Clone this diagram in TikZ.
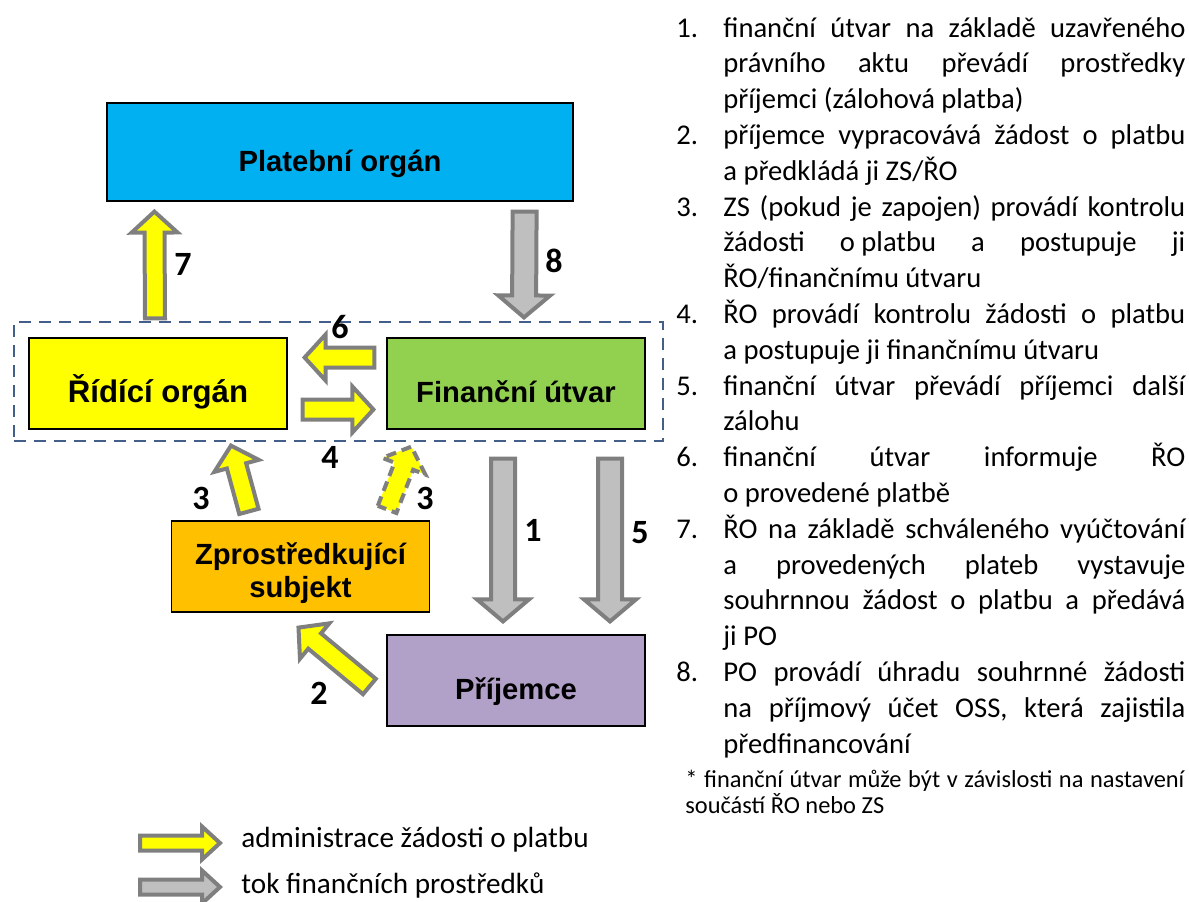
\documentclass[tikz,border=0pt]{standalone}
\usepackage{fontspec}
\setmainfont{Carlito}
\newfontfamily\arialfont{Liberation Sans}
\usetikzlibrary{calc,positioning}

\definecolor{modra}{RGB}{0,176,240}
\definecolor{zluta}{RGB}{255,255,0}
\definecolor{zelena}{RGB}{146,208,80}
\definecolor{oranzova}{RGB}{255,192,0}
\definecolor{fialova}{RGB}{177,160,199}
\definecolor{obrys}{RGB}{127,127,127}
\definecolor{seda}{RGB}{191,191,191}
\definecolor{carkovana}{RGB}{68,94,138}

\tikzset{
  sirka/.store in=\sipw, hlava/.store in=\siphw, delka/.store in=\siphl,
  sirka=5pt, hlava=11.5pt, delka=10.5pt,
  box/.style={draw=black, line width=0.6pt, inner sep=0pt, align=center,
    minimum width=129pt, minimum height=45.5pt,
    font=\arialfont\bfseries\fontsize{14.6}{16.5}\selectfont},
  jedna/.style={text height=19pt, text depth=0pt},
  zadost/.style={draw=obrys, fill=zluta, line width=2pt, line join=miter,
    sirka=5pt, hlava=11.5pt, delka=10.5pt},
  penize/.style={draw=obrys, fill=seda, line width=2pt, line join=miter,
    sirka=6pt, hlava=13pt, delka=11pt},
  volitelna/.style={zadost, dash pattern=on 5pt off 3pt},
  legenda/.style={sirka=3.75pt, hlava=8.25pt, delka=9pt},
  cislo/.style={inner sep=0pt, font=\bfseries\fontsize{17}{19}\selectfont},
  seznam/.style={text width=254.5pt, align=justify, inner sep=0pt,
    font=\fontsize{14.3}{17.9}\selectfont},
  poznamka/.style={text width=249.5pt, align=justify, inner sep=0pt,
    font=\fontsize{12.2}{13}\selectfont},
  popis/.style={inner sep=0pt, font=\fontsize{14.6}{17}\selectfont},
}

% block arrow from #2 to #3
\newcommand{\sipka}[3][]{%
  \draw[#1] ($(#2)!\sipw!90:(#3)$) -- ($(#3)!\siphl!(#2)!\sipw!-90:(#2)$)
    -- ($(#3)!\siphl!(#2)!\siphw!-90:(#2)$) -- (#3)
    -- ($(#3)!\siphl!(#2)!\siphw!90:(#2)$) -- ($(#3)!\siphl!(#2)!\sipw!90:(#2)$)
    -- ($(#2)!\sipw!-90:(#3)$) -- cycle;}

\newcommand{\krok}[2]{\hangindent=23.5pt\hangafter=1\makebox[23.5pt][l]{#1}#2\par}

\begin{document}
\begin{tikzpicture}[x=0.5pt, y=-0.5pt]
\useasboundingbox (0,0) rectangle (1189,901);

\node (skupina) at (338.5,381.5) [draw=carkovana, line width=1.2pt,
  dash pattern=on 6pt off 4pt, minimum width=324.5pt, minimum height=59.5pt] {};

\node (po) at (340,152) [box, jedna, fill=modra, minimum width=233pt, minimum height=49pt] {Platební orgán};
\node (ro) at (158,383.5) [box, jedna, fill=zluta,
  font=\arialfont\bfseries\fontsize{15.6}{17}\selectfont] {Řídící orgán};
\node (fu) at (516,383.5) [box, jedna, fill=zelena] {Finanční útvar};
\node (zs) at (300.5,566.5) [box, fill=oranzova, text height=34pt] {Zprostředkující\\subjekt};
\node (pr) at (516,680.5) [box, jedna, fill=fialova] {Příjemce};

\coordinate (s7a) at ($(ro.north)+(-3,-19)$);
\coordinate (s7b) at ($(po.south west)+(48,10)$);
\coordinate (s8a) at ($(po.south east)+(-49,10)$);
\coordinate (s8b) at ($(fu.north)+(8,-20)$);
\coordinate (s6a) at ($(fu.west)+(-12,-26)$);
\coordinate (s6b) at ($(ro.east)+(17,-26)$);
\coordinate (s4a) at ($(ro.east)+(15,26)$);
\coordinate (s4b) at ($(fu.west)+(-13,26)$);
\coordinate (s3a) at ($(zs.north west)+(78,-9)$);
\coordinate (s3b) at ($(ro.south)+(73,16)$);
\coordinate (s3c) at ($(zs.north east)+(-43,-11)$);
\coordinate (s3d) at ($(fu.south west)+(25,17)$);
\coordinate (s1a) at ($(fu.south)+(-13,29)$);
\coordinate (s1b) at ($(pr.north)+(-13,-13)$);
\coordinate (s5a) at ($(fu.south)+(94,29)$);
\coordinate (s5b) at ($(pr.north)+(94,-13)$);
\coordinate (s2a) at ($(pr.west)+(-17,6)$);
\coordinate (s2b) at ($(zs.south)+(-2,15)$);

\sipka[zadost]{s7a}{s7b}
\sipka[penize]{s8a}{s8b}
\sipka[zadost]{s6a}{s6b}
\sipka[zadost]{s4a}{s4b}
\sipka[zadost]{s3a}{s3b}
\sipka[volitelna]{s3c}{s3d}
\sipka[penize]{s1a}{s1b}
\sipka[penize]{s5a}{s5b}
\sipka[zadost]{s2a}{s2b}

\foreach \jm/\t/\x/\y in {c7/7/183/264, c8/8/554/261, c6/6/340/327, c4/4/330/457,
    c3a/3/201/498, c3b/3/425/498, c1/1/533/530, c5/5/640/533, c2/2/319/693}
  \node[cislo] (\jm) at (\x,\y) {\t};

% right column
\node[seznam, anchor=base west] (kroky) at (676,37) {%
  \tolerance=10000\hbadness=10000\hyphenpenalty=10000%
  \krok{1.}{finanční útvar na základě uzavřeného\linebreak právního aktu převádí prostředky\linebreak příjemci (zálohová platba)}%
  \krok{2.}{příjemce vypracovává žádost o platbu\linebreak a předkládá ji ZS/ŘO}%
  \krok{3.}{ZS (pokud je zapojen) provádí kontrolu\linebreak žádosti \mbox{o platbu} a postupuje ji\linebreak ŘO/finančnímu útvaru}%
  \krok{4.}{ŘO provádí kontrolu žádosti o platbu\linebreak a postupuje ji finančnímu útvaru}%
  \krok{5.}{finanční útvar převádí příjemci další\linebreak zálohu}%
  \krok{6.}{finanční útvar informuje ŘO\linebreak o provedené platbě}%
  \krok{7.}{ŘO na základě schváleného vyúčtování\linebreak a provedených plateb vystavuje\linebreak souhrnnou žádost o platbu a předává\linebreak ji PO}%
  \krok{8.}{PO provádí úhradu souhrnné žádosti\linebreak na příjmový účet OSS, která zajistila\linebreak předfinancování}};
\node[poznamka, anchor=base west] (pozn) at (685,787) {%
  \tolerance=10000\hbadness=10000%
  * finanční útvar může být v závislosti na nastavení\linebreak součástí ŘO nebo ZS};

% legend
\coordinate (lz1) at (140,843);
\coordinate (lz2) at (220,843);
\coordinate (ls1) at (140,887);
\coordinate (ls2) at (220,887);
\sipka[zadost, legenda]{lz1}{lz2}
\sipka[penize, legenda]{ls1}{ls2}
\node[popis, anchor=base west] (lzt) at (241,847) {administrace žádosti o platbu};
\node[popis, anchor=base west] (lst) at (241,893) {tok finančních prostředků};
\end{tikzpicture}
\end{document}
